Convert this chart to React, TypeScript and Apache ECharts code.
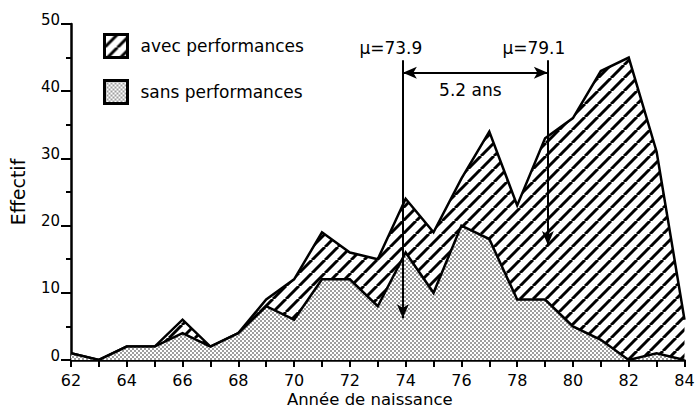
import React, { useEffect, useRef } from "react";
import * as echarts from "echarts";

// Année de naissance (19xx) and head counts per birth year
const years = [62, 63, 64, 65, 66, 67, 68, 69, 70, 71, 72, 73, 74, 75, 76, 77, 78, 79, 80, 81, 82, 83, 84];
const sansPerf = [1, 0, 2, 2, 4, 2, 4, 8, 6, 12, 12, 8, 16, 10, 20, 18, 9, 9, 5, 3, 0, 1, 0];
const avecPerf = [0, 0, 0, 0, 2, 0, 0, 1, 6, 7, 4, 7, 8, 9, 7, 16, 14, 24, 31, 40, 45, 30, 6];

const xTickLabels = [62, 64, 66, 68, 70, 72, 74, 76, 78, 80, 82, 84];
const yTickLabels = [0, 10, 20, 30, 40, 50];

// Mean birth year of each group
const meanSans = 73.9;
const meanAvec = 79.1;

// Vertical placement of the annotation arrows (in "Effectif" units)
const arrowTopY = 44.6;
const arrowTipSansY = 6.2;
const arrowTipAvecY = 17.1;
const spanArrowY = 42.75;

const FONT = "DejaVu Sans";
const INK = "#000";

function hatchPattern() {
  const s = 13;
  const c = document.createElement("canvas");
  c.width = s;
  c.height = s;
  const ctx = c.getContext("2d")!;
  ctx.fillStyle = "#fff";
  ctx.fillRect(0, 0, s, s);
  ctx.strokeStyle = INK;
  ctx.lineWidth = 3;
  for (const x0 of [-s, 0, s]) {
    ctx.beginPath();
    ctx.moveTo(x0, s);
    ctx.lineTo(x0 + s, 0);
    ctx.stroke();
  }
  return { image: c.toDataURL(), repeat: "repeat" as const };
}

function dotPattern() {
  const s = 4;
  const c = document.createElement("canvas");
  c.width = s;
  c.height = s;
  const ctx = c.getContext("2d")!;
  ctx.fillStyle = "#fff";
  ctx.fillRect(0, 0, s, s);
  ctx.fillStyle = "#222";
  for (const [x, y] of [[1, 1], [3, 3]]) {
    ctx.beginPath();
    ctx.arc(x, y, 0.8, 0, Math.PI * 2);
    ctx.fill();
  }
  return { image: c.toDataURL(), repeat: "repeat" as const };
}

export default function App() {
  const ref = useRef<HTMLDivElement>(null);

  useEffect(() => {
    if (!ref.current) return;
    const chart = echarts.init(ref.current, null, { renderer: "svg" });
    const hatch = hatchPattern();
    const dots = dotPattern();
    const gapLabel = `${(meanAvec - meanSans).toFixed(1)} ans`;
    // the hatched band sits on top of the dotted one: its upper edge is the sum of both groups
    const totals = sansPerf.map((v, i) => v + avecPerf[i]);

    const muLabel = (text: string, rightPad: number) => ({
      show: true,
      position: "start",
      formatter: text,
      distance: 4,
      padding: [0, rightPad, 0, 0],
      fontFamily: FONT,
      fontSize: 17,
      color: INK,
    });

    chart.setOption({
      animation: false,
      backgroundColor: "#fff",
      textStyle: { fontFamily: FONT, color: INK },
      grid: { left: 71, right: 13.5, top: 24, bottom: 48, containLabel: false, outerBoundsMode: "none" },
      legend: {
        orient: "vertical",
        left: 98,
        top: 28,
        itemWidth: 23,
        itemHeight: 23,
        itemGap: 20,
        selectedMode: false,
        textStyle: { fontFamily: FONT, fontSize: 17, color: INK, padding: [0, 0, 0, 8] },
        data: [
          { name: "avec performances", icon: "rect", itemStyle: { color: hatch, borderColor: INK, borderWidth: 3 } },
          { name: "sans performances", icon: "rect", itemStyle: { color: dots, borderColor: INK, borderWidth: 3 } },
        ],
      },
      xAxis: {
        type: "value",
        min: 62,
        max: 84,
        interval: 1,
        name: "Année de naissance",
        nameLocation: "middle",
        nameGap: 31,
        nameMoveOverlap: false,
        nameTextStyle: { fontFamily: FONT, fontSize: 16.5, lineHeight: 16, color: INK, padding: [0, 16, 0, 0] },
        splitLine: { show: false },
        axisLine: { lineStyle: { color: INK, width: 2.5 } },
        axisTick: { length: 7, lineStyle: { color: INK, width: 2 } },
        axisLabel: {
          fontFamily: FONT,
          fontSize: 16,
          lineHeight: 16,
          color: INK,
          margin: 12,
          formatter: (v: number) => (xTickLabels.includes(v) ? String(v) : ""),
        },
      },
      yAxis: {
        type: "value",
        min: 0,
        max: 50,
        interval: 10,
        name: "Effectif",
        nameLocation: "middle",
        nameGap: 44,
        nameMoveOverlap: false,
        nameTextStyle: { fontFamily: FONT, fontSize: 19, color: INK },
        splitLine: { show: false },
        axisLine: { show: true, lineStyle: { color: INK, width: 2.5 } },
        axisTick: { show: true, length: 10, lineStyle: { color: INK, width: 2 } },
        minorTick: { show: true, splitNumber: 2, length: 5, lineStyle: { color: INK, width: 2 } },
        axisLabel: {
          fontFamily: FONT,
          fontSize: 15,
          color: INK,
          margin: 11,
          verticalAlign: "bottom",
          lineHeight: 9,
          formatter: (v: number) => (yTickLabels.includes(v) ? String(v) : ""),
        },
      },
      series: [
        {
          name: "avec performances",
          type: "line",
          symbol: "none",
          z: 2,
          data: years.map((y, i) => [y, totals[i]]),
          itemStyle: { color: INK },
          lineStyle: { color: INK, width: 2.5, join: "miter" },
          areaStyle: { color: hatch, opacity: 1 },
        },
        {
          name: "sans performances",
          type: "line",
          symbol: "none",
          z: 3,
          data: years.map((y, i) => [y, sansPerf[i]]),
          itemStyle: { color: INK },
          lineStyle: { color: INK, width: 2.5, join: "miter" },
          areaStyle: { color: dots, opacity: 1 },
          markLine: {
            silent: true,
            z: 10,
            symbol: ["none", "arrow"],
            symbolSize: [9, 14],
            lineStyle: { color: INK, width: 2, type: "solid" },
            label: { show: false },
            data: [
              [
                { coord: [meanSans, arrowTopY], symbol: "none", label: muLabel(`μ=${meanSans}`, 24) },
                { coord: [meanSans, arrowTipSansY], symbol: "arrow" },
              ],
              [
                { coord: [meanAvec, arrowTopY], symbol: "none", label: muLabel(`μ=${meanAvec}`, 28) },
                { coord: [meanAvec, arrowTipAvecY], symbol: "arrow" },
              ],
              [
                {
                  coord: [meanSans, spanArrowY],
                  symbol: "arrow",
                  label: {
                    show: true,
                    position: "insideMiddleBottom",
                    formatter: gapLabel,
                    distance: 9,
                    padding: [0, 10, 0, 0],
                    fontFamily: FONT,
                    fontSize: 17,
                    color: INK,
                  },
                },
                { coord: [meanAvec, spanArrowY], symbol: "arrow" },
              ],
            ],
          },
        },
      ],
    });

    return () => chart.dispose();
  }, []);

  return (
    <div
      ref={ref}
      style={{ position: "fixed", left: 0, top: 0, width: 698, height: 408, background: "#fff" }}
    />
  );
}
